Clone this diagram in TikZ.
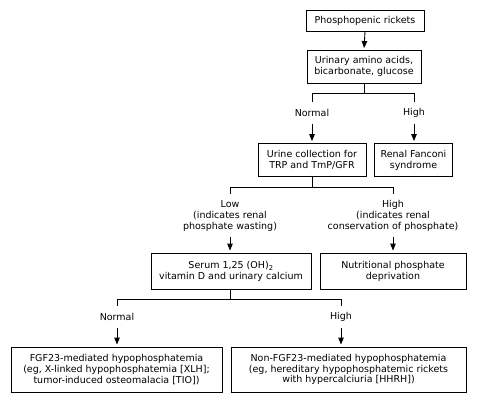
\documentclass[tikz,border=0pt]{standalone}
\usepackage{fontspec}
\setmainfont{DejaVu Sans}
\usetikzlibrary{arrows.meta}
\begin{document}
\begin{tikzpicture}[x=1pt,y=-1pt,
  box/.style={draw,line width=0.9pt,inner sep=0pt,align=center,font=\fontsize{9.5}{10.8}\selectfont},
  lbl/.style={inner sep=0pt,align=center,font=\fontsize{9.5}{10.8}\selectfont},
  arr/.style={-{Triangle[width=5.5pt,length=7pt]},line width=0.9pt},
  ln/.style={line width=0.9pt}]
\fill[white] (0,0) rectangle (478,403);
\useasboundingbox (0,0) rectangle (478,403);

% boxes
\node[box,minimum width=118pt,minimum height=21pt] (n1) at (365,20.5) {Phosphopenic rickets};
\node[box,minimum width=114pt,minimum height=33pt] (n2) at (364,66.5) {Urinary amino acids,\\bicarbonate, glucose};
\node[box,minimum width=108pt,minimum height=33pt] (n3) at (312,160) {Urine collection for\\TRP and TmP/GFR};
\node[box,minimum width=78pt,minimum height=33pt] (n4) at (413.5,160) {Renal Fanconi\\syndrome};
\node[box,minimum width=160pt,minimum height=36pt] (n5) at (231,271) {Serum 1,25 (OH)\textsubscript{2}\\vitamin D and urinary calcium};
\node[box,minimum width=146pt,minimum height=36pt] (n6) at (393,271) {Nutritional phosphate\\deprivation};
\node[box,minimum width=211pt,minimum height=45pt] (n7) at (116.5,369.5) {FGF23-mediated hypophosphatemia\\(eg, X-linked hypophosphatemia [XLH];\\tumor-induced osteomalacia [TIO])};
\node[box,minimum width=235pt,minimum height=45pt] (n8) at (348.5,369.5) {Non-FGF23-mediated hypophosphatemia\\(eg, hereditary hypophosphatemic rickets\\with hypercalciuria [HHRH])};

% labels
\node[lbl] (l1) at (312,113) {Normal};
\node[lbl] (l2) at (414,113) {High};
\node[lbl] (l3) at (230,216) {Low\\(indicates renal\\phosphate wasting)};
\node[lbl] (l4) at (393,216) {High\\(indicates renal\\conservation of phosphate)};
\node[lbl] (l5) at (117,317) {Normal};
\node[lbl] (l6) at (341,317) {High};

% junction coordinates
\coordinate (j1) at (364,93);
\coordinate (j1a) at (312,93);
\coordinate (j1b) at (414,93);
\coordinate (e1a) at (312,102);
\coordinate (e1b) at (414,102);
\coordinate (s1a) at (312,124);
\coordinate (s1b) at (414,124);

\coordinate (j2) at (312,187);
\coordinate (j2a) at (230,187);
\coordinate (j2b) at (393,187);
\coordinate (e2a) at (230,194);
\coordinate (e2b) at (393,194);
\coordinate (s2a) at (230,237);
\coordinate (s2b) at (393,237);

\coordinate (j3) at (230,299);
\coordinate (j3a) at (117,299);
\coordinate (j3b) at (341,299);
\coordinate (e3a) at (117,306);
\coordinate (e3b) at (341,306);
\coordinate (s3a) at (117,328);
\coordinate (s3b) at (341,328);

% connectors
\draw[arr,shorten >=1.5pt] (n1.south) -- (n2.north);

\draw[ln] (n2.south -| j1) -- (j1);
\draw[ln] (e1a) -- (j1a) -- (j1b) -- (e1b);
\draw[arr,shorten >=2pt] (s1a) -- (s1a |- n3.north);
\draw[arr,shorten >=2pt] (s1b) -- (s1b |- n4.north);

\draw[ln] (n3.south -| j2) -- (j2);
\draw[ln] (e2a) -- (j2a) -- (j2b) -- (e2b);
\draw[arr,shorten >=2pt] (s2a) -- (s2a |- n5.north);
\draw[arr,shorten >=2pt] (s2b) -- (s2b |- n6.north);

\draw[ln] (n5.south -| j3) -- (j3);
\draw[ln] (e3a) -- (j3a) -- (j3b) -- (e3b);
\draw[arr,shorten >=2pt] (s3a) -- (s3a |- n7.north);
\draw[arr,shorten >=2pt] (s3b) -- (s3b |- n8.north);
\end{tikzpicture}
\end{document}
